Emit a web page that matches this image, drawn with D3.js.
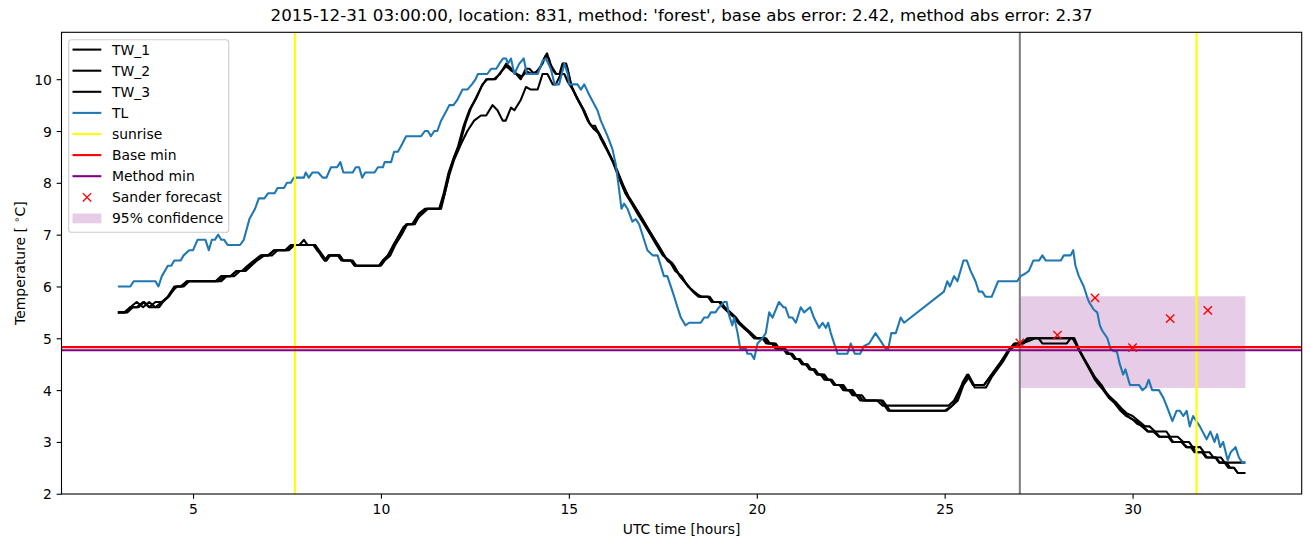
<!DOCTYPE html>
<html><head><meta charset="utf-8">
<script src="https://cdn.jsdelivr.net/npm/d3@7"></script>
<style>body{margin:0;background:#fff;} svg{display:block;font-family:"DejaVu Sans",sans-serif;}</style>
</head><body><svg id="c" width="1310" height="547"></svg>
<script>
const titleText = "2015-12-31 03:00:00, location: 831, method: 'forest', base abs error: 2.42, method abs error: 2.37";
const xLabel = "UTC time [hours]";
const xTicks = [5, 10, 15, 20, 25, 30];
const yTicks = [2, 3, 4, 5, 6, 7, 8, 9, 10];
const legendLabels = ["TW_1", "TW_2", "TW_3", "TL", "sunrise", "Base min", "Method min", "Sander forecast", "95% confidence"];

const TW_1 = [[3.0,5.5],[3.2,5.5],[3.33,5.6],[3.5,5.7],[3.67,5.6],[3.83,5.7],[4.0,5.6],[4.17,5.7],[4.33,5.8],[4.5,6.0],[4.67,6.0],[4.83,6.1],[5.67,6.1],[5.83,6.2],[6.0,6.2],[6.17,6.3],[6.33,6.3],[6.5,6.4],[6.67,6.5],[6.83,6.6],[7.0,6.6],[7.17,6.7],[7.5,6.7],[7.67,6.8],[7.83,6.8],[7.95,6.9],[8.05,6.8],[8.25,6.8],[8.4,6.6],[8.5,6.5],[8.6,6.6],[8.9,6.6],[9.0,6.5],[9.2,6.5],[9.3,6.4],[9.95,6.4],[10.05,6.5],[10.2,6.6],[10.33,6.8],[10.5,7.0],[10.67,7.2],[10.83,7.2],[11.0,7.4],[11.17,7.5],[11.55,7.5],[11.67,7.8],[11.8,8.2],[11.92,8.45],[12.05,8.7],[12.2,9.1],[12.35,9.4],[12.5,9.6],[12.67,9.85],[12.8,10.0],[13.0,10.0],[13.17,10.1],[13.33,10.3],[13.47,10.2],[13.6,10.1],[13.72,10.0],[13.85,10.2],[13.95,10.2],[14.08,10.1],[14.22,10.2],[14.34,10.4],[14.42,10.5],[14.5,10.3],[14.58,10.2],[14.67,10.1],[14.75,10.1],[14.83,10.3],[14.93,10.3],[15.05,9.9],[15.2,9.65],[15.35,9.45],[15.5,9.2],[15.6,9.1],[15.7,9.1],[15.85,8.85],[16.0,8.65],[16.17,8.4],[16.33,8.1],[16.5,7.8],[16.67,7.6],[16.83,7.4],[17.0,7.2],[17.17,7.0],[17.33,6.8],[17.5,6.6],[17.67,6.5],[17.83,6.3],[18.0,6.2],[18.17,6.0],[18.33,5.9],[18.5,5.8],[18.75,5.8],[18.85,5.7],[19.0,5.7],[19.1,5.6],[19.25,5.5],[19.4,5.4],[19.5,5.3],[19.65,5.2],[19.8,5.1],[19.93,5.0],[20.15,5.0],[20.25,4.9],[20.4,4.9],[20.5,4.8],[20.7,4.8],[20.8,4.7],[20.9,4.7],[21.0,4.6],[21.1,4.6],[21.2,4.5],[21.3,4.5],[21.4,4.4],[21.5,4.4],[21.6,4.3],[21.7,4.3],[21.8,4.2],[21.95,4.2],[22.05,4.1],[22.2,4.1],[22.3,4.0],[22.45,4.0],[22.55,3.9],[22.65,3.9],[22.75,3.8],[23.2,3.8],[23.35,3.7],[25.1,3.7],[25.25,3.8],[25.5,4.15],[25.63,4.3],[25.78,4.1],[26.05,4.1],[26.2,4.25],[26.5,4.55],[26.67,4.75],[26.85,4.9],[27.05,4.9],[27.2,5.0],[28.43,5.0],[28.55,4.8],[28.67,4.65],[28.8,4.5],[29.0,4.25],[29.17,4.1],[29.3,3.95],[29.42,3.85],[29.58,3.75],[29.7,3.65],[29.85,3.55],[30.0,3.5],[30.17,3.4],[30.33,3.3],[30.45,3.3],[30.6,3.2],[30.9,3.2],[31.0,3.1],[31.2,3.1],[31.35,3.0],[31.5,3.0],[31.6,2.9],[31.8,2.9],[31.9,2.8],[32.05,2.8],[32.15,2.7],[32.35,2.7],[32.45,2.6],[33.0,2.6]];

const TW_2 = [[3.0,5.5],[3.17,5.5],[3.33,5.6],[3.5,5.6],[3.67,5.7],[3.83,5.6],[4.0,5.7],[4.17,5.7],[4.33,5.8],[4.42,5.9],[4.58,6.0],[4.75,6.0],[4.9,6.1],[5.75,6.1],[5.9,6.2],[6.1,6.2],[6.25,6.3],[6.4,6.3],[6.55,6.4],[6.7,6.5],[6.9,6.6],[7.1,6.6],[7.25,6.7],[7.55,6.7],[7.7,6.8],[8.25,6.8],[8.35,6.7],[8.45,6.6],[8.55,6.5],[8.65,6.6],[8.85,6.6],[8.95,6.5],[9.25,6.5],[9.35,6.4],[10.0,6.4],[10.1,6.5],[10.25,6.6],[10.38,6.8],[10.55,7.0],[10.7,7.2],[10.9,7.2],[11.05,7.4],[11.2,7.5],[11.58,7.5],[11.7,7.8],[11.82,8.2],[11.95,8.5],[12.1,8.75],[12.25,9.15],[12.4,9.45],[12.55,9.65],[12.7,9.9],[12.83,10.0],[13.05,10.0],[13.2,10.15],[13.33,10.25],[13.5,10.15],[13.62,10.1],[13.75,10.05],[13.88,10.15],[14.0,10.1],[14.15,10.15],[14.3,10.3],[14.38,10.45],[14.47,10.4],[14.55,10.2],[14.65,10.1],[14.78,10.1],[14.87,10.3],[14.95,10.25],[15.08,9.85],[15.25,9.6],[15.4,9.4],[15.55,9.15],[15.67,9.05],[15.77,9.0],[15.92,8.8],[16.08,8.55],[16.25,8.3],[16.4,8.0],[16.58,7.75],[16.75,7.55],[16.92,7.35],[17.08,7.15],[17.25,6.95],[17.42,6.75],[17.58,6.55],[17.75,6.45],[17.92,6.25],[18.08,6.1],[18.25,5.95],[18.4,5.85],[18.55,5.8],[18.7,5.8],[18.8,5.7],[19.05,5.7],[19.15,5.6],[19.3,5.5],[19.45,5.4],[19.55,5.3],[19.7,5.2],[19.85,5.1],[20.0,5.0],[20.25,5.0],[20.35,4.9],[20.5,4.9],[20.6,4.8],[20.75,4.8],[20.85,4.7],[20.95,4.7],[21.05,4.6],[21.15,4.6],[21.25,4.5],[21.35,4.5],[21.45,4.4],[21.55,4.4],[21.65,4.3],[21.8,4.3],[21.9,4.2],[22.0,4.2],[22.1,4.1],[22.3,4.1],[22.4,4.0],[22.55,4.0],[22.65,3.9],[22.8,3.9],[22.9,3.8],[23.35,3.8],[23.45,3.7],[23.55,3.6],[25.0,3.6],[25.2,3.7],[25.35,3.8],[25.5,4.1],[25.65,4.25],[25.8,4.05],[26.1,4.05],[26.25,4.25],[26.55,4.55],[26.75,4.8],[26.9,4.85],[27.05,4.9],[27.25,4.95],[27.4,5.0],[28.4,5.0],[28.52,4.85],[28.7,4.6],[28.85,4.4],[29.0,4.2],[29.2,4.05],[29.35,3.9],[29.5,3.8],[29.65,3.65],[29.8,3.55],[29.95,3.45],[30.1,3.4],[30.25,3.3],[30.4,3.2],[30.55,3.2],[30.7,3.1],[30.95,3.1],[31.05,3.0],[31.3,3.0],[31.45,2.9],[31.55,2.9],[31.65,2.8],[31.85,2.8],[31.95,2.7],[32.2,2.7],[32.3,2.6],[32.5,2.6],[32.6,2.5],[32.7,2.5],[32.8,2.4],[33.0,2.4]];

const TW_3 = [[3.0,5.5],[3.25,5.5],[3.4,5.6],[3.55,5.6],[3.7,5.7],[3.85,5.6],[4.1,5.6],[4.2,5.7],[4.35,5.8],[4.45,5.9],[4.55,6.0],[4.7,6.0],[4.85,6.1],[5.6,6.1],[5.75,6.2],[6.0,6.2],[6.15,6.3],[6.3,6.3],[6.45,6.4],[6.62,6.5],[6.8,6.6],[7.0,6.6],[7.15,6.7],[7.45,6.7],[7.6,6.8],[8.2,6.8],[8.3,6.7],[8.42,6.6],[8.52,6.5],[8.62,6.6],[8.9,6.6],[9.0,6.5],[9.2,6.5],[9.3,6.4],[9.95,6.4],[10.05,6.5],[10.18,6.6],[10.3,6.75],[10.45,6.95],[10.6,7.15],[10.72,7.2],[10.85,7.2],[10.95,7.3],[11.1,7.4],[11.25,7.5],[11.6,7.5],[11.7,7.8],[11.82,8.15],[11.95,8.45],[12.13,8.75],[12.3,9.0],[12.48,9.2],[12.66,9.3],[12.8,9.3],[12.97,9.5],[13.1,9.4],[13.24,9.2],[13.32,9.2],[13.46,9.45],[13.55,9.4],[13.72,9.6],[13.86,9.85],[13.99,9.8],[14.17,9.8],[14.3,10.1],[14.43,10.1],[14.57,9.9],[14.65,9.9],[14.79,10.1],[14.88,10.1],[14.97,9.95],[15.1,9.8],[15.25,9.6],[15.4,9.4],[15.55,9.15],[15.65,9.05],[15.8,8.95],[15.95,8.75],[16.12,8.5],[16.28,8.25],[16.45,7.95],[16.6,7.7],[16.78,7.5],[16.95,7.3],[17.12,7.1],[17.28,6.9],[17.45,6.7],[17.62,6.5],[17.8,6.4],[17.95,6.2],[18.12,6.05],[18.3,5.9],[18.45,5.8],[18.72,5.8],[18.82,5.7],[19.0,5.7],[19.12,5.6],[19.27,5.5],[19.42,5.4],[19.52,5.3],[19.67,5.2],[19.82,5.1],[19.95,5.0],[20.2,5.0],[20.3,4.9],[20.45,4.9],[20.55,4.8],[20.75,4.8],[20.85,4.7],[20.92,4.7],[21.02,4.6],[21.12,4.6],[21.22,4.5],[21.32,4.5],[21.42,4.4],[21.52,4.4],[21.62,4.3],[21.75,4.3],[21.85,4.2],[21.98,4.2],[22.08,4.1],[22.25,4.1],[22.35,4.0],[22.5,4.0],[22.6,3.9],[22.72,3.9],[22.82,3.8],[23.3,3.8],[23.4,3.7],[23.5,3.6],[25.05,3.6],[25.2,3.7],[25.3,3.8],[25.48,4.15],[25.6,4.3],[25.75,4.1],[26.05,4.1],[26.2,4.25],[26.5,4.55],[26.7,4.75],[26.88,4.9],[27.1,4.9],[27.25,5.0],[27.5,5.0],[27.6,4.9],[28.25,4.9],[28.35,5.0],[28.45,5.0],[28.57,4.8],[28.75,4.55],[28.9,4.35],[29.05,4.15],[29.22,4.0],[29.37,3.85],[29.52,3.75],[29.68,3.6],[29.83,3.5],[29.98,3.45],[30.12,3.35],[30.28,3.3],[30.42,3.2],[30.6,3.2],[30.72,3.1],[30.98,3.1],[31.08,3.0],[31.3,3.0],[31.42,2.9],[31.6,2.9],[31.7,2.8],[31.88,2.8],[31.98,2.7],[32.22,2.7],[32.32,2.6],[32.45,2.6],[32.55,2.5],[32.7,2.5],[32.8,2.4],[33.0,2.4]];

const TL = [[3.0,6.0],[3.33,6.0],[3.42,6.1],[4.0,6.1],[4.08,6.0],[4.17,6.2],[4.33,6.4],[4.42,6.4],[4.5,6.5],[4.67,6.5],[4.75,6.6],[4.9,6.7],[5.0,6.7],[5.12,6.9],[5.33,6.9],[5.42,6.7],[5.5,6.9],[5.58,6.9],[5.67,7.0],[5.75,6.9],[5.83,6.9],[5.92,6.8],[6.25,6.8],[6.35,6.9],[6.5,7.3],[6.65,7.5],[6.75,7.7],[6.9,7.7],[7.0,7.8],[7.17,7.8],[7.25,7.9],[7.42,7.9],[7.5,8.0],[7.6,8.0],[7.68,8.1],[7.95,8.1],[8.0,8.2],[8.08,8.1],[8.18,8.2],[8.33,8.2],[8.45,8.1],[8.55,8.1],[8.67,8.3],[8.83,8.3],[8.92,8.4],[9.0,8.2],[9.25,8.2],[9.33,8.3],[9.42,8.3],[9.5,8.1],[9.58,8.2],[9.83,8.2],[9.92,8.3],[10.05,8.3],[10.1,8.4],[10.27,8.4],[10.35,8.6],[10.45,8.6],[10.53,8.7],[10.67,8.9],[11.07,8.9],[11.17,9.0],[11.25,9.0],[11.33,8.9],[11.42,9.0],[11.5,9.0],[11.6,9.2],[11.75,9.4],[11.82,9.5],[11.93,9.5],[12.03,9.6],[12.17,9.8],[12.3,9.8],[12.42,9.9],[12.52,10.0],[12.58,10.1],[12.83,10.1],[12.93,10.2],[13.07,10.2],[13.15,10.3],[13.25,10.4],[13.33,10.4],[13.38,10.3],[13.46,10.4],[13.55,10.1],[13.68,10.3],[13.8,10.4],[13.88,10.1],[14.17,10.1],[14.3,10.35],[14.39,10.4],[14.52,10.2],[14.62,9.9],[14.74,9.9],[14.88,10.3],[14.97,10.1],[15.01,9.9],[15.23,9.9],[15.32,9.8],[15.41,9.9],[15.54,9.7],[15.76,9.4],[15.85,9.2],[16.03,8.9],[16.16,8.65],[16.25,8.35],[16.34,7.85],[16.4,7.5],[16.47,7.6],[16.56,7.5],[16.69,7.25],[16.78,7.3],[16.87,7.2],[17.09,6.7],[17.23,6.6],[17.36,6.6],[17.53,6.2],[17.62,6.2],[17.76,5.9],[17.89,5.6],[17.98,5.4],[18.1,5.25],[18.2,5.3],[18.35,5.3],[18.51,5.3],[18.6,5.4],[18.7,5.4],[18.78,5.5],[18.9,5.5],[19.0,5.6],[19.13,5.7],[19.2,5.7],[19.26,5.45],[19.35,5.25],[19.4,5.4],[19.49,5.1],[19.56,4.8],[19.71,4.8],[19.75,4.7],[19.85,4.7],[19.93,4.6],[20.02,4.9],[20.15,5.0],[20.24,5.1],[20.33,5.5],[20.42,5.4],[20.59,5.7],[20.71,5.6],[20.76,5.6],[20.86,5.4],[20.95,5.4],[21.04,5.3],[21.17,5.6],[21.26,5.5],[21.42,5.6],[21.52,5.4],[21.66,5.2],[21.75,5.3],[21.84,5.2],[21.9,5.3],[21.97,5.1],[22.15,4.7],[22.41,4.7],[22.5,4.9],[22.61,4.7],[22.75,4.7],[22.85,4.85],[22.99,4.9],[23.16,5.1],[23.43,4.8],[23.5,4.8],[23.58,5.1],[23.7,5.1],[23.83,5.4],[23.92,5.3],[24.98,5.9],[25.07,6.1],[25.14,6.0],[25.25,6.2],[25.34,6.1],[25.5,6.5],[25.59,6.5],[25.69,6.3],[25.82,6.1],[25.91,5.9],[26.0,5.9],[26.09,5.8],[26.25,5.8],[26.42,6.1],[26.93,6.1],[27.02,6.2],[27.15,6.25],[27.24,6.3],[27.36,6.5],[27.51,6.5],[27.6,6.6],[27.69,6.5],[28.09,6.5],[28.17,6.6],[28.35,6.6],[28.42,6.7],[28.48,6.4],[28.57,6.2],[28.7,6.0],[28.79,5.8],[28.84,5.7],[28.97,5.55],[29.06,5.5],[29.13,5.25],[29.19,5.15],[29.33,5.0],[29.41,4.8],[29.5,4.75],[29.58,4.75],[29.66,4.5],[29.75,4.3],[29.81,4.4],[29.93,4.1],[30.17,4.1],[30.26,4.0],[30.35,4.05],[30.43,4.2],[30.52,4.0],[30.7,4.0],[30.82,3.85],[30.93,3.65],[31.06,3.4],[31.17,3.6],[31.26,3.6],[31.35,3.5],[31.44,3.6],[31.52,3.3],[31.61,3.5],[31.7,3.4],[31.79,3.3],[31.97,3.05],[32.07,3.2],[32.18,3.0],[32.25,3.15],[32.33,2.9],[32.41,3.0],[32.53,2.65],[32.61,2.8],[32.74,2.9],[32.83,2.7],[32.92,2.6],[33.0,2.6]];

const sunriseTimes = [7.71, 31.7];
const forecastTime = [27.0];
const baseMin = [4.83];
const methodMin = [4.77];
const sanderTimes = [27, 28, 29, 30, 31, 32];
const sanderValues = [4.91, 5.06, 5.78, 4.82, 5.38, 5.54];
const confTimes = [27, 33];
const confLow = [4.04, 4.04];
const confHigh = [5.81, 5.81];

const W = 1310, H = 547;
const L = 61.5, R = 1301.7, T = 32.3, B = 494;
const FS = 13.9;
const LW = 2.08;
const svg = d3.select("#c");
const x = d3.scaleLinear().domain([1.5, 34.5]).range([L, R]);
const y = d3.scaleLinear().domain([1.995, 10.905]).range([B, T]);

svg.append("rect").attr("width", W).attr("height", H).attr("fill", "#fff");
svg.append("defs").append("clipPath").attr("id", "clip").append("rect")
  .attr("x", L).attr("y", T).attr("width", R - L).attr("height", B - T);
const plot = svg.append("g").attr("clip-path", "url(#clip)");

// confidence band
const band = confTimes.map((t, i) => ({t, lo: confLow[i], hi: confHigh[i]}));
plot.append("path").datum(band)
  .attr("d", d3.area().x(d => x(d.t)).y0(d => y(d.lo)).y1(d => y(d.hi)))
  .attr("fill", "purple").attr("fill-opacity", 0.2);

// forecast time vertical line
forecastTime.forEach(t => plot.append("line").attr("x1", x(t)).attr("x2", x(t)).attr("y1", T).attr("y2", B)
  .attr("stroke", "gray").attr("stroke-width", LW));

const line = d3.line().x(d => x(d[0])).y(d => y(d[1]));
[TW_1, TW_2, TW_3].forEach(s => plot.append("path").datum(s).attr("d", line)
  .attr("fill", "none").attr("stroke", "black").attr("stroke-width", LW).attr("stroke-linejoin", "round"));
plot.append("path").datum(TL).attr("d", line)
  .attr("fill", "none").attr("stroke", "#1f77b4").attr("stroke-width", LW).attr("stroke-linejoin", "round");

sunriseTimes.forEach(t => plot.append("line").attr("x1", x(t)).attr("x2", x(t)).attr("y1", T).attr("y2", B)
  .attr("stroke", "yellow").attr("stroke-width", LW));
baseMin.forEach(v => plot.append("line").attr("x1", L).attr("x2", R).attr("y1", y(v)).attr("y2", y(v))
  .attr("stroke", "red").attr("stroke-width", LW));
methodMin.forEach(v => plot.append("line").attr("x1", L).attr("x2", R).attr("y1", y(v)).attr("y2", y(v))
  .attr("stroke", "purple").attr("stroke-width", LW));

const xm = 4.17;
const xPath = `M${-xm},${-xm}L${xm},${xm}M${-xm},${xm}L${xm},${-xm}`;
sanderTimes.forEach((t, i) => plot.append("path").attr("d", xPath)
  .attr("transform", `translate(${x(t)},${y(sanderValues[i])})`)
  .attr("stroke", "red").attr("stroke-width", 1.4).attr("fill", "none"));

// axes
const xAxis = svg.append("g").attr("transform", `translate(0,${B})`)
  .call(d3.axisBottom(x).tickValues(xTicks).tickSize(4.86).tickFormat(d3.format("d")));
xAxis.select(".domain").remove();
xAxis.selectAll("line").attr("stroke-width", 1.1);
xAxis.selectAll("text").attr("y", 20.3).attr("dy", null)
  .attr("font-size", FS).attr("font-family", "DejaVu Sans").attr("fill", "#000");

const yAxis = svg.append("g").attr("transform", `translate(${L},0)`)
  .call(d3.axisLeft(y).tickValues(yTicks).tickSize(4.86).tickFormat(d3.format("d")));
yAxis.select(".domain").remove();
yAxis.selectAll("line").attr("stroke-width", 1.1);
yAxis.selectAll("text").attr("x", -9.7).attr("dy", "0.36em")
  .attr("font-size", FS).attr("font-family", "DejaVu Sans").attr("fill", "#000");

svg.append("rect").attr("x", L).attr("y", T).attr("width", R - L).attr("height", B - T)
  .attr("fill", "none").attr("stroke", "#000").attr("stroke-width", 1.1);

// labels
svg.append("text").attr("x", (L + R) / 2).attr("y", 20.5).attr("text-anchor", "middle")
  .attr("font-size", 16.7).text(titleText);
svg.append("text").attr("x", (L + R) / 2).attr("y", 534).attr("text-anchor", "middle")
  .attr("font-size", FS).text(xLabel);
const yl = svg.append("text").attr("transform", `translate(24.5,${(T + B) / 2}) rotate(-90)`)
  .attr("text-anchor", "middle").attr("font-size", FS);
yl.append("tspan").text("Temperature [ ");
yl.append("tspan").attr("font-size", FS * 0.7).attr("dy", -5).text("∘");
yl.append("tspan").attr("dy", 5).text("C]");

// legend
const lg = svg.append("g");
lg.append("rect").attr("x", 68.7).attr("y", 39.7).attr("width", 160).attr("height", 192.6)
  .attr("rx", 2.8).attr("fill", "#fff").attr("fill-opacity", 0.8).attr("stroke", "#cccccc").attr("stroke-width", 1.1);
const legColors = ["black", "black", "black", "#1f77b4", "yellow", "red", "purple"];
legendLabels.forEach((lab, i) => {
  const cy = 49.6 + i * 21.1;
  if (i < 7) {
    lg.append("line").attr("x1", 72.5).attr("x2", 101.3).attr("y1", cy).attr("y2", cy)
      .attr("stroke", legColors[i]).attr("stroke-width", LW);
  } else if (i === 7) {
    lg.append("path").attr("d", xPath).attr("transform", `translate(87,${cy})`)
      .attr("stroke", "red").attr("stroke-width", 1.4).attr("fill", "none");
  } else {
    lg.append("rect").attr("x", 72.5).attr("y", cy - 4.9).attr("width", 28.8).attr("height", 9.8)
      .attr("fill", "purple").attr("fill-opacity", 0.2);
  }
  lg.append("text").attr("x", 112).attr("y", cy + 5).attr("font-size", FS).text(lab);
});
</script></body></html>
